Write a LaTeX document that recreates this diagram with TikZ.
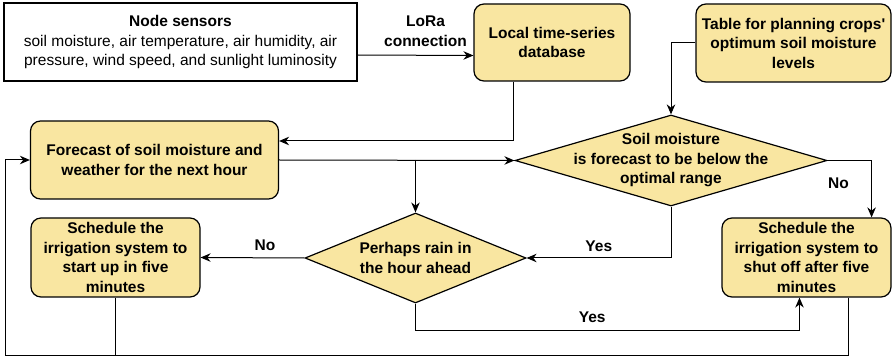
\documentclass[tikz,border=0pt]{standalone}
\usepackage{fontspec}
\setmainfont{Liberation Sans}
\usepackage{xcolor}
\usetikzlibrary{shapes.geometric, arrows.meta, positioning}
\definecolor{jaune}{HTML}{F9E6A1}
\newcommand{\taille}{\fontsize{15.5}{19.5}\selectfont}

\begin{document}
\begin{tikzpicture}[x=1pt, y=-1pt, line width=1pt,
    >={Stealth[length=10pt, width=8.5pt]},
    bloc/.style={draw, rounded corners=10pt, fill=jaune, line width=1.2pt,
        align=center, inner sep=2pt, font=\taille\bfseries},
    capteurs/.style={draw, fill=white, line width=1.2pt, align=center,
        inner sep=2pt, font=\taille},
    choix/.style={draw, diamond, fill=jaune, line width=1.2pt, inner sep=0pt},
    txt/.style={align=center, font=\taille\bfseries},
    etiq/.style={font=\taille\bfseries}]

    \useasboundingbox (0,0) rectangle (892,358);

    % Définition des blocs
    \node[capteurs, minimum width=353pt, minimum height=78pt] (capt) at (180.5,42)
        {\textbf{Node sensors}\\soil moisture, air temperature, air humidity, air\\pressure, wind speed, and sunlight luminosity};
    \node[bloc, minimum width=156pt, minimum height=77pt] (base) at (552,42.5)
        {Local time-series\\database};
    \node[bloc, minimum width=195pt, minimum height=78pt] (table) at (793.5,43)
        {Table for planning crops\textquotesingle\\optimum soil moisture\\levels};
    \node[bloc, minimum width=248pt, minimum height=78pt] (prev) at (154.5,160)
        {Forecast of soil moisture and\\weather for the next hour};
    \node[choix, minimum width=312pt, minimum height=91pt,
        label={[txt]center:{Soil moisture\\is forecast to be below the\\optimal range}}] (humid) at (671,160.5) {};
    \node[choix, minimum width=221pt, minimum height=90pt,
        label={[txt]center:{Perhaps rain in\\the hour ahead}}] (pluie) at (415.5,258) {};
    \node[bloc, minimum width=169pt, minimum height=79pt] (marche) at (115.5,257.5)
        {Schedule the\\irrigation system to\\start up in five\\minutes};
    \node[bloc, minimum width=169pt, minimum height=79pt] (arret) at (806.5,257.5)
        {Schedule the\\irrigation system to\\shut off after five\\minutes};
    \coordinate (bas) at (5,355);

    % Définition des liaisons
    \draw[->] ([yshift=-13pt]capt.east) -- node[etiq, above=5pt, align=center, xshift=10pt] {LoRa\\connection} ([yshift=-13pt]base.west);
    \draw[->] (table.west) -| (humid.north);
    \draw[->] ([xshift=-39pt]base.south) |- ([yshift=19pt]prev.east);
    \draw[->] (prev.east) -- (humid.west);
    \draw[->] (prev.east -| pluie.north) -- (pluie.north);
    \draw[->] (humid.south) |- node[etiq, above=3pt, pos=0.75] {Yes} (pluie.east);
    \draw[->] (humid.east) -| node[etiq, left=19pt, pos=0.7] {No} ([xshift=-20pt]arret.north east);
    \draw[->] (pluie.west) -- node[etiq, above=3pt, pos=0.38] {No} (marche.east);
    \draw[->] (pluie.south) -- ++(0,27) -| node[etiq, above=4pt, pos=0.23] {Yes} ([xshift=-7pt]arret.south);
    \draw[->] ([xshift=42pt]arret.south) |- (bas) |- (prev.west);
    \draw (marche.south) -- (marche.south |- bas);

\end{tikzpicture}
\end{document}
